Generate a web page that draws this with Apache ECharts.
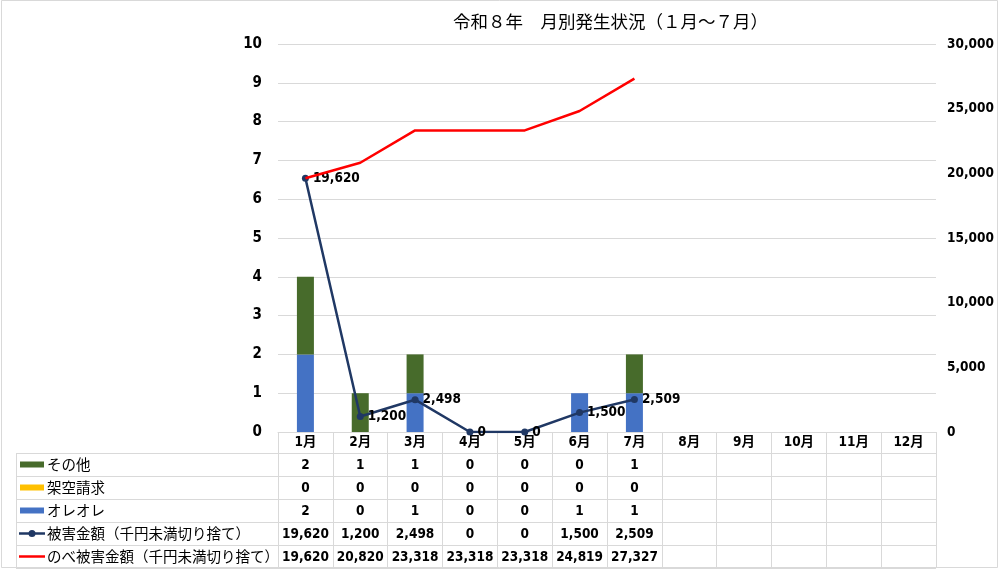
<!DOCTYPE html>
<html><head><meta charset="utf-8">
<script src="https://cdn.jsdelivr.net/npm/echarts@6/dist/echarts.min.js"></script>
<style>html,body{margin:0;padding:0;background:#fff}#c{width:1000px;height:569px}</style>
</head><body><div id="c"></div>
<script>
// ---- data ----
const months = ['1月','2月','3月','4月','5月','6月','7月','8月','9月','10月','11月','12月'];
const otherCounts = [2,1,1,0,0,0,1];
const fictitiousCounts = [0,0,0,0,0,0,0];
const oreoreCounts = [2,0,1,0,0,1,1];
const damageAmounts = [19620,1200,2498,0,0,1500,2509];
const cumulativeAmounts = [19620,20820,23318,23318,23318,24819,27327];
const seriesNames = ['その他','架空請求','オレオレ','被害金額（千円未満切り捨て）','のべ被害金額（千円未満切り捨て）'];
const titleText = '令和８年　月別発生状況（１月～７月）';
const leftAxisMax = 10, leftAxisInterval = 1;
const rightAxisMax = 30000, rightAxisInterval = 5000;

// ---- style ----
const NUM_FONT = "'Liberation Sans Narrow','DejaVu Sans Condensed','Noto Sans CJK JP',sans-serif";
const JP_FONT = "'Noto Sans CJK JP',sans-serif";
const C_BLUE = '#4472C4', C_YELLOW = '#FFC000', C_GREEN = '#476B2B', C_NAVY = '#203864', C_RED = '#FF0000';
const GRID_LINE = '#D9D9D9';
const W = 1000, H = 569;
const grid = {left: 278, right: 64, top: 44, bottom: 137};
const plotBottom = H - grid.bottom;
const plotRight = W - grid.right;
const tableLeft = 16;
const headerH = 21, rowH = 23;

const fmt = v => (v === undefined || v === null) ? '' : v.toLocaleString('en-US');

const chart = echarts.init(document.getElementById('c'), null, {renderer: 'canvas'});

const tableRows = [
  {name: seriesNames[0], data: otherCounts, icon: 'rect', color: C_GREEN},
  {name: seriesNames[1], data: fictitiousCounts, icon: 'rect', color: C_YELLOW},
  {name: seriesNames[2], data: oreoreCounts, icon: 'rect', color: C_BLUE},
  {name: seriesNames[3], data: damageAmounts, icon: 'lineDot', color: C_NAVY},
  {name: seriesNames[4], data: cumulativeAmounts, icon: 'line', color: C_RED}
];

const graphics = [];
graphics.push({type:'rect', shape:{x:1.5,y:0.5,width:996,height:567}, style:{fill:'none', stroke:'#D9D9D9', lineWidth:1}, silent:true});
const rowTop = plotBottom + headerH;
for (let i = 0; i <= tableRows.length; i++) {
  const y = Math.round(rowTop + i*rowH) + 0.5;
  graphics.push({type:'line', shape:{x1:tableLeft, y1:y, x2:plotRight, y2:y}, style:{stroke:GRID_LINE, lineWidth:1}, silent:true});
}
graphics.push({type:'line', shape:{x1:tableLeft+0.5, y1:rowTop, x2:tableLeft+0.5, y2:rowTop+rowH*tableRows.length}, style:{stroke:GRID_LINE, lineWidth:1}, silent:true});
tableRows.forEach((r, i) => {
  const cy = rowTop + i*rowH + rowH/2;
  if (r.icon === 'rect') {
    graphics.push({type:'rect', shape:{x:20, y:cy-3, width:24, height:6}, style:{fill:r.color}, silent:true});
  } else {
    graphics.push({type:'line', shape:{x1:19, y1:cy, x2:45, y2:cy}, style:{stroke:r.color, lineWidth:2.5}, silent:true});
    if (r.icon === 'lineDot') graphics.push({type:'circle', shape:{cx:32, cy:cy, r:3.5}, style:{fill:r.color}, silent:true});
  }
  graphics.push({type:'text', x:47, y:cy, style:{text:r.name, fontFamily:JP_FONT, fontSize:14.5, fill:'#000', verticalAlign:'middle', align:'left'}, silent:true});
});

const numLabel = {fontFamily: NUM_FONT, fontWeight: 'bold', fontSize: 13.5, color: '#000'};

const option = {
  animation: false,
  backgroundColor: '#fff',
  title: {
    text: titleText, left: 448, top: 8,
    textStyle: {fontFamily: JP_FONT, fontSize: 17.5, fontWeight: 'normal', color: '#000'}
  },
  legend: {show: false},
  grid: {left: grid.left, right: grid.right, top: grid.top, bottom: grid.bottom, containLabel: false},
  xAxis: {
    type: 'category', data: months, boundaryGap: true,
    axisLine: {show: true, lineStyle: {color: GRID_LINE, width: 1}},
    axisTick: {show: true, interval: 0, alignWithLabel: false, length: headerH + rowH*tableRows.length, lineStyle: {color: GRID_LINE}},
    axisLabel: Object.assign({}, numLabel, {
      interval: 0, margin: -1, lineHeight: rowH, verticalAlign: 'top', align: 'center',
      formatter: (value, idx) => [value].concat(tableRows.map(r => fmt(r.data[idx]))).join('\n')
    })
  },
  yAxis: [
    {type: 'value', min: 0, max: leftAxisMax, interval: leftAxisInterval,
     axisLine: {show: false}, axisTick: {show: false},
     axisLabel: Object.assign({}, numLabel, {margin: 16, fontSize: 15}),
     splitLine: {show: true, lineStyle: {color: GRID_LINE, width: 1}}},
    {type: 'value', min: 0, max: rightAxisMax, interval: rightAxisInterval, position: 'right',
     axisLine: {show: false}, axisTick: {show: false},
     axisLabel: Object.assign({}, numLabel, {margin: 11, formatter: v => fmt(v)}),
     splitLine: {show: false}}
  ],
  series: [
    {name: seriesNames[2], type: 'bar', stack: 'cnt', data: oreoreCounts, barWidth: 17, itemStyle: {color: C_BLUE}},
    {name: seriesNames[1], type: 'bar', stack: 'cnt', data: fictitiousCounts, barWidth: 17, itemStyle: {color: C_YELLOW}},
    {name: seriesNames[0], type: 'bar', stack: 'cnt', data: otherCounts, barWidth: 17, itemStyle: {color: C_GREEN}},
    {name: seriesNames[3], type: 'line', yAxisIndex: 1, data: damageAmounts, z: 3,
     lineStyle: {color: C_NAVY, width: 2.5}, itemStyle: {color: C_NAVY},
     symbol: 'circle', symbolSize: 7,
     label: Object.assign({}, numLabel, {show: true, position: 'right', distance: 4, formatter: p => fmt(p.value)})},
    {name: seriesNames[4], type: 'line', yAxisIndex: 1, data: cumulativeAmounts, z: 4,
     lineStyle: {color: C_RED, width: 2.5}, itemStyle: {color: C_RED}, showSymbol: false}
  ],
  graphic: graphics
};
chart.setOption(option);
</script>
</body></html>
